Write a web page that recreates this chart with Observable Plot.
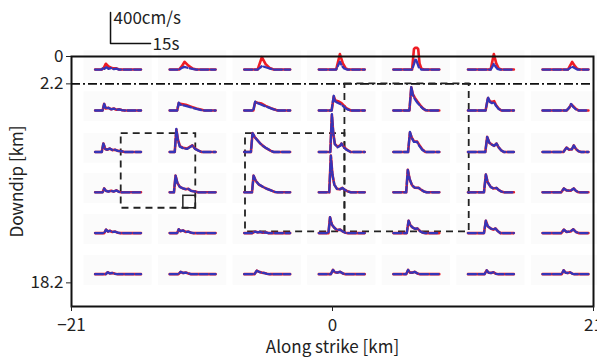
<!DOCTYPE html>
<html><head><meta charset="utf-8">
<script src="https://cdn.jsdelivr.net/npm/d3@7"></script>
<script src="https://cdn.jsdelivr.net/npm/@observablehq/plot@0.6"></script>
<style>body{margin:0;background:#fff;} #chart{width:597px;height:358px;}</style>
</head><body><div id="chart"></div>
<script>
// Subfault window starts (along strike, km) and waveform baselines (downdip, km)
const colX0 = [-19.1, -13.1, -7.1, -1.1, 4.9, 10.9, 16.9];
const rowBase = [1.05, 4.34, 7.68, 10.92, 14.2, 17.5];
const winSec = 17.2;              // length of each waveform window (s)
const kmPerSec = 3.22 / 15;       // 15 s  -> 3.22 km on the map
const kmPerCms = 2.49 / 400;      // 400 cm/s -> 2.49 km on the map
const xTicks = [-21, 0, 21];
const yTicks = [0, 2.2, 18.2];
const shallowDepth = [2.2];
// dashed boxes [x1,x2,y1,y2] km
const boxes = [[-17, -11, 6.2, 12.2], [-7, 1, 6.2, 14.1], [1, 11, 2.2, 14.1]];
const smallBoxes = [[-12, -11, 11.2, 12.2]];
const scaleBar = {x: -17.86, y: -1.05, sec: 15, vel: 400};

// slip velocity (cm/s) keypoints [t(s), v] — blue
const blue = [
 [ // row 0
  [[2.5,0],[3,25],[3.5,10],[4.2,30],[5,10],[6,20],[7,5],[8,12],[9,0]],
  [[3.5,0],[4.5,20],[5.5,35],[7,20],[9,5],[10,0]],
  [[5,0],[6,25],[6.6,45],[8,30],[10,10],[11,0]],
  [[6.5,0],[7.3,60],[7.9,100],[8.6,50],[9.5,15],[10.5,0]],
  [[7,0],[7.8,80],[8.3,140],[8.8,100],[9.5,30],[10.5,0]],
  [[8.5,0],[9.2,40],[9.7,75],[10.3,40],[11,10],[12,0]],
  [[9.5,0],[10.5,25],[11.1,40],[12,20],[13,0]]
 ],
 [ // row 1
  [[2.8,0],[3.4,85],[4,25],[5,35],[6,15],[7,25],[8,10],[9,15],[10,5],[11,0]],
  [[2.8,0],[3.4,100],[4,75],[6,60],[8,40],[10,20],[12,5],[13,0]],
  [[3.4,0],[4.1,115],[5,95],[6,80],[7.5,60],[9,40],[11,15],[12.5,0]],
  [[4.8,0],[5.2,100],[5.6,190],[6.1,120],[7,100],[8,85],[9,60],[10,30],[11,10],[12,0]],
  [[6,0],[6.7,310],[7.3,200],[8,150],[9,100],[10,60],[11,25],[12,5],[13,0]],
  [[6.6,0],[7.5,170],[8.2,110],[9,95],[9.8,105],[10.5,60],[11.5,20],[12.5,0]],
  [[9,0],[10,40],[10.7,85],[11.5,45],[12.5,15],[13.5,0]]
 ],
 [ // row 2
  [[2.5,0],[3.1,110],[3.8,40],[4.5,30],[5.5,45],[6.5,25],[7.5,30],[8.5,15],[10,10],[11,0]],
  [[1.9,0],[2.5,300],[3.1,150],[3.8,70],[5,50],[6.5,40],[7.5,60],[8.5,85],[9.5,40],[11,15],[12,0]],
  [[2.5,0],[3.1,245],[4,190],[5,150],[6,110],[7,80],[8,55],[9,35],[10,15],[11,0]],
  [[4.3,0],[4.9,490],[5.4,250],[6,100],[7,60],[8,80],[8.5,110],[9.3,60],[10.5,25],[12,0]],
  [[5.5,0],[6.2,260],[6.9,180],[7.7,130],[8.9,130],[9.7,80],[10.8,30],[12,0]],
  [[6.5,0],[7.2,195],[8,120],[9,95],[9.8,80],[10.7,110],[11.5,60],[12.5,20],[13.5,0]],
  [[7.8,0],[9,57],[10,30],[11,35],[11.7,85],[12.5,40],[13.5,10],[14.5,0]]
 ],
 [ // row 3
  [[2.8,0],[3.4,50],[4,20],[5,10],[6,20],[7,10],[8,25],[9,5],[10,0]],
  [[1.6,0],[2.2,215],[2.9,120],[3.8,70],[5,50],[6,40],[7,45],[8,20],[9.5,10],[10.5,0]],
  [[2.9,0],[3.5,215],[4.3,150],[5.5,100],[7,70],[8.5,45],[10,25],[11.5,5],[12.5,0]],
  [[3.9,0],[4.5,475],[5.1,230],[5.8,100],[6.8,45],[8,40],[8.8,57],[9.8,30],[11,10],[12,0]],
  [[4.8,0],[5.4,290],[6.1,170],[7,90],[8,60],[9.5,57],[10.5,30],[11.5,10],[12.5,0]],
  [[6,0],[6.7,230],[7.4,130],[8.5,70],[9.5,50],[10.7,57],[11.5,30],[12.5,10],[13.5,0]],
  [[7,0],[8,50],[9,25],[10.5,20],[11.7,50],[12.5,20],[13.5,0]]
 ],
 [ // row 4
  [[3.4,0],[4.1,45],[4.8,20],[5.5,30],[6.5,15],[7.5,20],[8.5,5],[9.5,0]],
  [[2.8,0],[3.4,50],[4,25],[5,35],[6,15],[7,20],[8,5],[9,0]],
  [[3,0],[4,20],[5,10],[6,15],[7,5],[8,10],[9,0]],
  [[3.6,0],[4.2,205],[4.9,110],[5.8,70],[6.8,40],[8,45],[9,20],[10,5],[11,0]],
  [[5,0],[5.7,160],[6.4,100],[7.3,70],[8.2,55],[9,60],[10,25],[11,5],[12,0]],
  [[6,0],[6.7,160],[7.4,90],[8.5,60],[9.5,45],[10.3,60],[11.2,25],[12.2,0]],
  [[7,0],[8,45],[9,15],[10.5,20],[11.5,50],[12.5,15],[13.5,0]]
 ],
 [ // row 5
  [[4,0],[4.7,25],[5.5,10],[6.5,15],[7.5,5],[8.5,0]],
  [[3.3,0],[4.1,30],[5,15],[6,20],[7,10],[8,0]],
  [[3.8,0],[4.7,45],[5.5,30],[6.5,20],[7.5,15],[8.5,5],[9.5,0]],
  [[4.5,0],[5.3,55],[6,25],[7,20],[8,30],[9,10],[10,0]],
  [[4.8,0],[5.5,55],[6.2,20],[7.2,20],[8,30],[9,10],[10,0]],
  [[6.2,0],[7,50],[7.7,20],[8.7,15],[9.5,25],[10.5,5],[11.5,0]],
  [[7.2,0],[7.9,50],[8.6,20],[9.5,15],[10.3,25],[11.2,5],[12,0]]
 ]
];

// red keypoints where they differ from blue (null = same as blue)
const red = [
 [
  [[2.5,0],[3.2,20],[4,75],[5,40],[6,25],[7,15],[8,15],[9,0]],
  [[3.5,0],[4.5,40],[5.6,100],[7,50],[8.5,15],[10,0]],
  [[5,0],[6.6,160],[8,70],[9.5,20],[11,0]],
  [[6.5,0],[7.9,200],[9,80],[10,20],[11,0]],
  [[7,0],[7.7,265],[8.1,280],[8.9,280],[9.3,265],[9.8,80],[10.5,10],[11.5,0]],
  [[8.5,0],[9.7,200],[10.6,80],[11.5,15],[12.5,0]],
  [[9.5,0],[11.1,100],[12,50],[13,10],[14,0]]
 ],
 [
  null,
  [[2.8,0],[3.4,95],[4,85],[6,75],[8,50],[10,25],[12,8],[13,0]],
  [[3.4,0],[4.1,110],[5,100],[6.5,90],[8,60],[10,30],[12,5],[13,0]],
  [[4.8,0],[5.6,180],[6.2,130],[7.5,115],[8.5,95],[9.5,60],[10.5,25],[12,0]],
  [[6,0],[6.7,300],[7.3,210],[8,165],[9,115],[10,70],[11,30],[12,5],[13,0]],
  [[6.6,0],[7.5,160],[8.2,120],[9,110],[9.8,120],[10.5,70],[11.5,25],[12.5,0]],
  [[9,0],[10,35],[10.7,80],[11.5,55],[12.5,20],[13.5,0]]
 ],
 [null,
  [[1.9,0],[2.5,290],[3.1,160],[3.8,80],[5,55],[6.5,45],[7.5,65],[8.5,85],[9.5,45],[11,15],[12,0]],
  null,
  [[4.3,0],[4.9,480],[5.4,250],[6,105],[7,70],[8,85],[8.5,110],[9.3,70],[10.5,30],[12,0]],
  [[5.5,0],[6.2,250],[6.9,185],[7.7,140],[8.9,135],[9.7,90],[10.8,35],[12,0]],
  null, null],
 [null, null, null, null, null, null, null],
 [null, null, null, null, null, null, null],
 [null, null, null, null, null, null, null]
];

function build(src, series) {
  const out = [];
  src.forEach((row, r) => row.forEach((cell, c) => {
    const pts = cell || blue[r][c];
    const all = [[0, 0], ...pts, [winSec, 0]];
    for (const [t, v] of all) {
      out.push({x: colX0[c] + t * kmPerSec, y: rowBase[r] - v * kmPerCms, z: `${r}-${c}`, series});
    }
  }));
  return out;
}
const blueData = build(blue, "blue");
const redData = build(red, "red");

const cells = [];
rowBase.forEach((b, r) => colX0.forEach((x0, c) => cells.push({x1: x0 - 0.9, x2: x0 + winSec * kmPerSec + 0.9, y1: b - 1.5, y2: b + 0.9})));

const boxData = boxes.map(([x1, x2, y1, y2]) => ({x1, x2, y1, y2}));
const smallBoxData = smallBoxes.map(([x1, x2, y1, y2]) => ({x1, x2, y1, y2}));
const sbx2 = scaleBar.x + scaleBar.sec * kmPerSec;
const sby2 = scaleBar.y - scaleBar.vel * kmPerCms;

const fmt = d => d < 0 ? "\u2212" + (-d) : String(d);

const chart = Plot.plot({
  width: 597, height: 358,
  marginLeft: 71, marginRight: 4, marginTop: 56, marginBottom: 52,
  style: {fontFamily: "'Noto Sans CJK JP', 'Noto Sans', sans-serif", fontSize: "17px", color: "#222", background: "#fff"},
  x: {domain: [-21, 21]},
  y: {domain: [0, 20.1], reverse: true},
  marks: [
    Plot.rect(cells, {x1: "x1", x2: "x2", y1: "y1", y2: "y2", fill: "#fbfbfb"}),
    Plot.ruleY(shallowDepth, {stroke: "#111", strokeWidth: 1.6, strokeDasharray: "9,3,2,3"}),
    Plot.rect(boxData, {x1: "x1", x2: "x2", y1: "y1", y2: "y2", fill: "none", stroke: "#222", strokeWidth: 1.8, strokeDasharray: "7,5"}),
    Plot.rect(smallBoxData, {x1: "x1", x2: "x2", y1: "y1", y2: "y2", fill: "none", stroke: "#222", strokeWidth: 1.5}),
    Plot.line(redData, {x: "x", y: "y", z: "z", stroke: "#ee1c24", strokeWidth: 2.6}),
    Plot.line(blueData, {x: "x", y: "y", z: "z", stroke: "#3535b8", strokeWidth: 2.3, strokeDasharray: "8,2.5"}),
    Plot.frame({stroke: "#111", strokeWidth: 2}),
    Plot.axisX({ticks: xTicks, tickFormat: fmt, tickSize: 5, tickPadding: 7, label: "Along strike [km]", labelAnchor: "center", labelArrow: false, labelOffset: 46}),
    Plot.axisY({ticks: yTicks, tickFormat: fmt, tickSize: 5, tickPadding: 3, label: "Downdip [km]", labelAnchor: "center", labelArrow: false, labelOffset: 61}),
    // scale bar
    Plot.line([{x: scaleBar.x, y: sby2}, {x: scaleBar.x, y: scaleBar.y}, {x: sbx2, y: scaleBar.y}], {x: "x", y: "y", stroke: "#111", strokeWidth: 1.5}),
    Plot.text([`${scaleBar.vel}cm/s`], {x: scaleBar.x, y: sby2, dx: 3, dy: 6, textAnchor: "start", fontSize: 17, fill: "#222"}),
    Plot.text([`${scaleBar.sec}s`], {x: sbx2, y: scaleBar.y, dx: 2, dy: 1, textAnchor: "start", fontSize: 17, fill: "#222"})
  ]
});
document.getElementById("chart").append(chart);
</script>
</body></html>
